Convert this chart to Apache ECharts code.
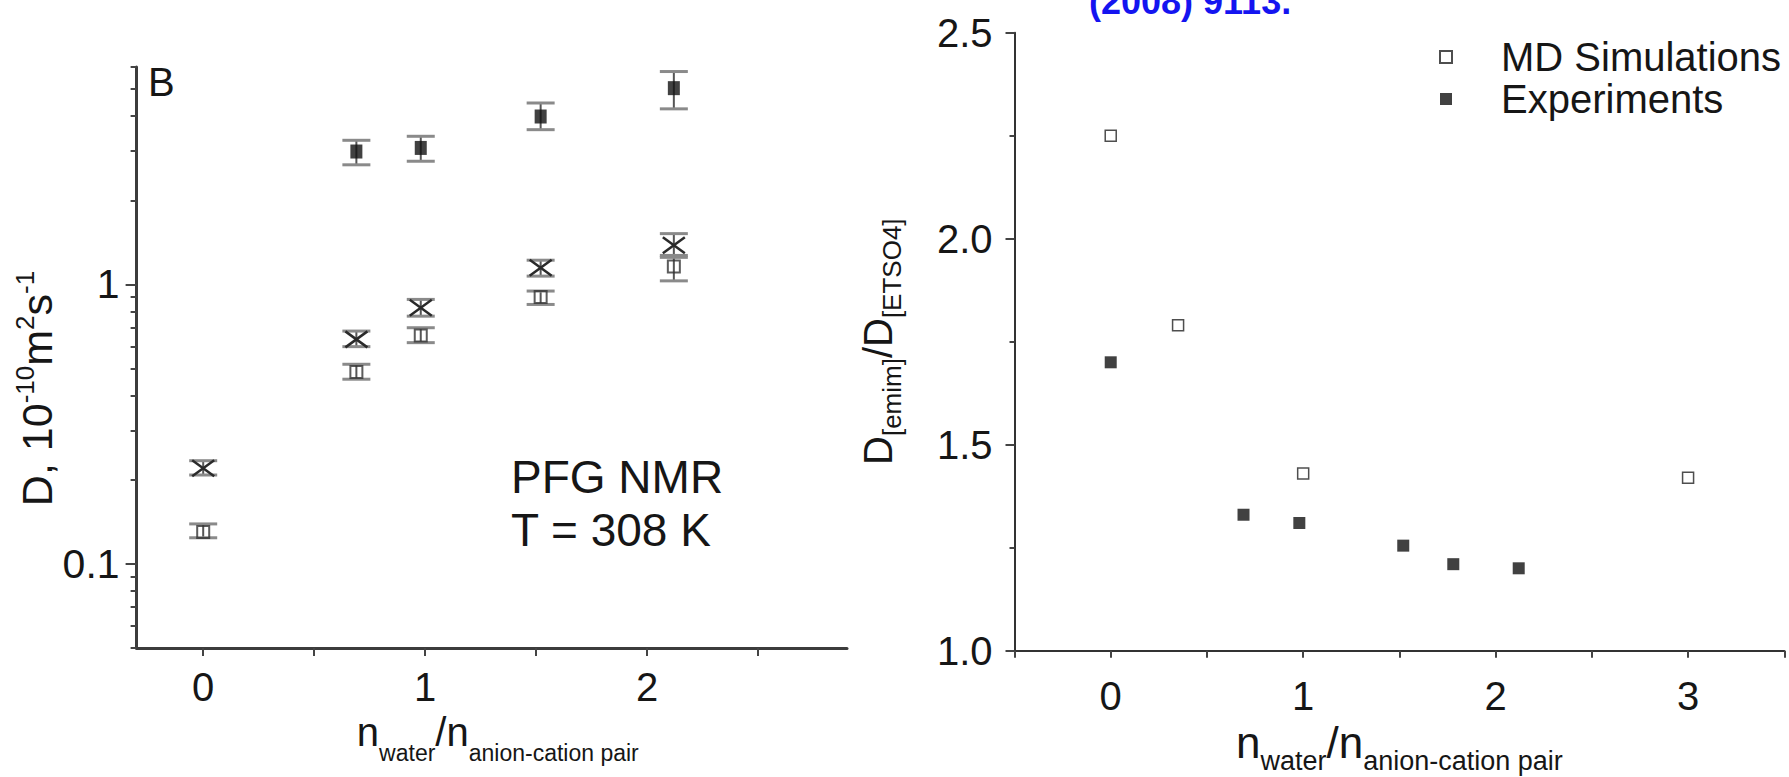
<!DOCTYPE html>
<html><head><meta charset="utf-8">
<script src="https://cdn.jsdelivr.net/npm/echarts@6/dist/echarts.min.js"></script>
<style>html,body{margin:0;padding:0;background:#fff}#c{width:1789px;height:777px}</style>
</head><body><div id="c"></div>
<script>
// ---------- data: left panel (PFG NMR, log scale) ----------
const leftX = [0.69, 0.98, 1.52, 2.12];
const waterD = [2.99, 3.08, 3.99, 5.04];
const waterLow = [2.68, 2.76, 3.58, 4.25];
const waterHigh = [3.28, 3.39, 4.46, 5.78];

const ionX = [0, 0.69, 0.98, 1.52, 2.12];
const cationD = [0.22, 0.636, 0.826, 1.147, 1.38];
const cationLow = [0.208, 0.599, 0.77, 1.071, 1.27];
const cationHigh = [0.234, 0.681, 0.884, 1.221, 1.52];
const anionD = [0.130, 0.486, 0.657, 0.901, 1.16];
const anionLow = [0.124, 0.458, 0.619, 0.848, 1.03];
const anionHigh = [0.139, 0.518, 0.700, 0.947, 1.25];

const leftXTicks = [0, 0.5, 1, 1.5, 2, 2.5];
const leftXLabels = [0, 1, 2];
const leftYMajor = [0.1, 1];
const leftYMinor = [0.05, 0.06, 0.07, 0.08, 0.09, 0.2, 0.3, 0.4, 0.5, 0.6, 0.7, 0.8, 0.9, 2, 3, 4, 5, 6];

// ---------- data: right panel (ratio) ----------
const mdX = [0, 0.35, 1, 3];
const mdRatio = [2.25, 1.79, 1.43, 1.42];
const expX = [0, 0.69, 0.98, 1.52, 1.78, 2.12];
const expRatio = [1.70, 1.33, 1.31, 1.255, 1.21, 1.20];

const rightXTicks = [-0.5, 0, 0.5, 1, 1.5, 2, 2.5, 3, 3.5];
const rightXLabels = [0, 1, 2, 3];

const FONT = '"Liberation Sans", Arial, Helvetica, sans-serif';
const TXT = '#161616';

function zip(a, b) { return a.map((v, i) => [v, b[i]]); }

function errorBars(name, xs, lows, highs, capHalf) {
  return {
    type: 'custom', name: name, xAxisIndex: 0, yAxisIndex: 0, z: 2,
    data: xs.map((x, i) => [x, lows[i], highs[i]]),
    encode: { x: 0, y: [1, 2] },
    renderItem: function (params, api) {
      const x = api.value(0);
      const lo = api.coord([x, api.value(1)]);
      const hi = api.coord([x, api.value(2)]);
      return {
        type: 'group', children: [
          { type: 'line', shape: { x1: lo[0], y1: lo[1], x2: hi[0], y2: hi[1] }, style: { stroke: '#555', lineWidth: 2 } },
          { type: 'line', shape: { x1: lo[0] - capHalf, y1: lo[1], x2: lo[0] + capHalf, y2: lo[1] }, style: { stroke: '#8a8a8a', lineWidth: 3 } },
          { type: 'line', shape: { x1: hi[0] - capHalf, y1: hi[1], x2: hi[0] + capHalf, y2: hi[1] }, style: { stroke: '#8a8a8a', lineWidth: 3 } }
        ]
      };
    }
  };
}

const crossSeries = {
  type: 'custom', name: 'cation', xAxisIndex: 0, yAxisIndex: 0, z: 3,
  data: zip(ionX, cationD),
  encode: { x: 0, y: 1 },
  renderItem: function (params, api) {
    const p = api.coord([api.value(0), api.value(1)]);
    const w = 11, h = 8;
    return {
      type: 'group', children: [
        { type: 'line', shape: { x1: p[0] - w, y1: p[1] - h, x2: p[0] + w, y2: p[1] + h }, style: { stroke: '#2a2a2a', lineWidth: 2.5 } },
        { type: 'line', shape: { x1: p[0] - w, y1: p[1] + h, x2: p[0] + w, y2: p[1] - h }, style: { stroke: '#2a2a2a', lineWidth: 2.5 } }
      ]
    };
  }
};

const tickStyle = { color: '#444', width: 2 };

const chart = echarts.init(document.getElementById('c'), null, { renderer: 'svg' });
chart.setOption({
  backgroundColor: '#fff',
  animation: false,
  textStyle: { fontFamily: FONT },
  grid: [
    { left: 136.6, top: 67, width: 710.4, height: 581, containLabel: false, outerBoundsMode: 'none' },
    { left: 1014.5, top: 32.7, width: 769.8, height: 618, containLabel: false, outerBoundsMode: 'none' }
  ],
  xAxis: [
    {
      gridIndex: 0, type: 'value', min: -0.3, max: 2.9,
      axisLine: { onZero: false, lineStyle: { color: '#3c3c3c', width: 3 } },
      axisTick: { customValues: leftXTicks, length: 8, lineStyle: tickStyle },
      axisLabel: { customValues: leftXLabels, margin: 19, fontSize: 40, color: TXT, fontFamily: FONT },
      splitLine: { show: false },
      name: '{m|n}{s|water}{m|/n}{s|anion-cation pair}',
      nameLocation: 'middle', nameGap: 62,
      nameTextStyle: {
        padding: [0, 0, 0, 12],
        rich: {
          m: { fontSize: 40, lineHeight: 40, padding: [0, 0, 25, 0], color: TXT, fontFamily: FONT },
          s: { fontSize: 23, lineHeight: 23, verticalAlign: 'bottom', color: TXT, fontFamily: FONT }
        }
      }
    },
    {
      gridIndex: 1, type: 'value', min: -0.5, max: 3.5,
      axisLine: { onZero: false, lineStyle: { color: '#333', width: 2 } },
      axisTick: { customValues: rightXTicks, length: 7, lineStyle: tickStyle },
      axisLabel: { customValues: rightXLabels, margin: 25, fontSize: 40, color: TXT, fontFamily: FONT },
      splitLine: { show: false },
      name: '{m|n}{s|water}{m|/n}{s|anion-cation pair}',
      nameLocation: 'middle', nameGap: 62,
      nameTextStyle: {
        rich: {
          m: { fontSize: 44, lineHeight: 44, padding: [0, 0, 19, 0], color: TXT, fontFamily: FONT },
          s: { fontSize: 27, lineHeight: 27, verticalAlign: 'bottom', color: TXT, fontFamily: FONT }
        }
      }
    }
  ],
  yAxis: [
    {
      gridIndex: 0, type: 'log', logBase: 10, min: 0.05, max: 6, position: 'left',
      axisLine: { onZero: false, lineStyle: { color: '#3c3c3c', width: 3 } },
      axisTick: { customValues: leftYMajor, length: 11, lineStyle: tickStyle },
      axisLabel: { customValues: leftYMajor, margin: 17, fontSize: 41, color: TXT, fontFamily: FONT, formatter: v => String(+Number(v).toPrecision(3)) },
      splitLine: { show: false },
      name: '{m|D, 10}{s|-10}{m|m}{s|2}{m|s}{s|-1}',
      nameLocation: 'middle', nameRotate: 90, nameGap: 82,
      nameTextStyle: {
        padding: [0, 62, 0, 0],
        rich: {
          m: { fontSize: 43, lineHeight: 43, padding: [8, 0, 0, 0], color: TXT, fontFamily: FONT },
          s: { fontSize: 26, lineHeight: 26, verticalAlign: 'top', color: TXT, fontFamily: FONT }
        }
      }
    },
    {
      gridIndex: 0, type: 'log', logBase: 10, min: 0.05, max: 6, position: 'left',
      axisLine: { show: false, onZero: false },
      axisTick: { customValues: leftYMinor, length: 6, lineStyle: tickStyle },
      axisLabel: { show: false },
      splitLine: { show: false }
    },
    {
      gridIndex: 1, type: 'value', min: 1, max: 2.5, interval: 0.5,
      axisLine: { onZero: false, lineStyle: { color: '#333', width: 2 } },
      axisTick: { length: 9, lineStyle: tickStyle },
      minorTick: { show: true, splitNumber: 2, length: 5, lineStyle: tickStyle },
      axisLabel: { margin: 22, fontSize: 40, color: TXT, fontFamily: FONT, formatter: v => Number(v).toFixed(1) },
      splitLine: { show: false },
      name: '{m|D}{s|[emim]}{m|/D}{s|[ETSO4]}',
      nameLocation: 'middle', nameRotate: 90, nameGap: 110,
      nameTextStyle: {
        rich: {
          m: { fontSize: 40, lineHeight: 40, padding: [0, 0, 13, 0], color: TXT, fontFamily: FONT },
          s: { fontSize: 26, lineHeight: 26, verticalAlign: 'bottom', color: TXT, fontFamily: FONT }
        }
      }
    }
  ],
  legend: {
    data: ['MD Simulations', 'Experiments'],
    orient: 'vertical', left: 1439, top: 37, padding: 0,
    itemWidth: 12, itemHeight: 12, itemGap: 2,
    selectedMode: false,
    textStyle: { fontSize: 40, lineHeight: 40, color: TXT, fontFamily: FONT, padding: [0, 0, 0, 44] }
  },
  series: [
    errorBars('water error', leftX, waterLow, waterHigh, 14),
    {
      type: 'scatter', name: 'water', xAxisIndex: 0, yAxisIndex: 0, z: 3,
      data: zip(leftX, waterD), symbol: 'rect', symbolSize: [12, 14],
      itemStyle: { color: '#111' }
    },
    errorBars('cation error', ionX, cationLow, cationHigh, 14),
    crossSeries,
    errorBars('anion error', ionX, anionLow, anionHigh, 14),
    {
      type: 'scatter', name: 'anion', xAxisIndex: 0, yAxisIndex: 0, z: 3,
      data: zip(ionX, anionD), symbol: 'rect', symbolSize: 12,
      itemStyle: { color: 'rgba(255,255,255,0)', borderColor: '#333', borderWidth: 2 }
    },
    {
      type: 'scatter', name: 'MD Simulations', xAxisIndex: 1, yAxisIndex: 2,
      data: zip(mdX, mdRatio), symbol: 'rect', symbolSize: 11,
      itemStyle: { color: '#fff', borderColor: '#222', borderWidth: 1.5 }
    },
    {
      type: 'scatter', name: 'Experiments', xAxisIndex: 1, yAxisIndex: 2,
      data: zip(expX, expRatio), symbol: 'rect', symbolSize: 12,
      itemStyle: { color: '#111' }
    }
  ],
  graphic: [
    { type: 'text', x: 148, y: 82, style: { text: 'B', font: '40px ' + FONT, fill: TXT, align: 'left', verticalAlign: 'middle' } },
    { type: 'text', x: 511, y: 477, style: { text: 'PFG NMR', font: '46px ' + FONT, fill: TXT, align: 'left', verticalAlign: 'middle' } },
    { type: 'text', x: 511, y: 530, style: { text: 'T = 308 K', font: '46px ' + FONT, fill: TXT, align: 'left', verticalAlign: 'middle' } },
    { type: 'text', x: 1089, y: 1.5, style: { text: '(2008) 9113.', font: 'bold 36px ' + FONT, fill: '#1414f0', align: 'left', verticalAlign: 'middle' } }
  ]
});
</script></body></html>
